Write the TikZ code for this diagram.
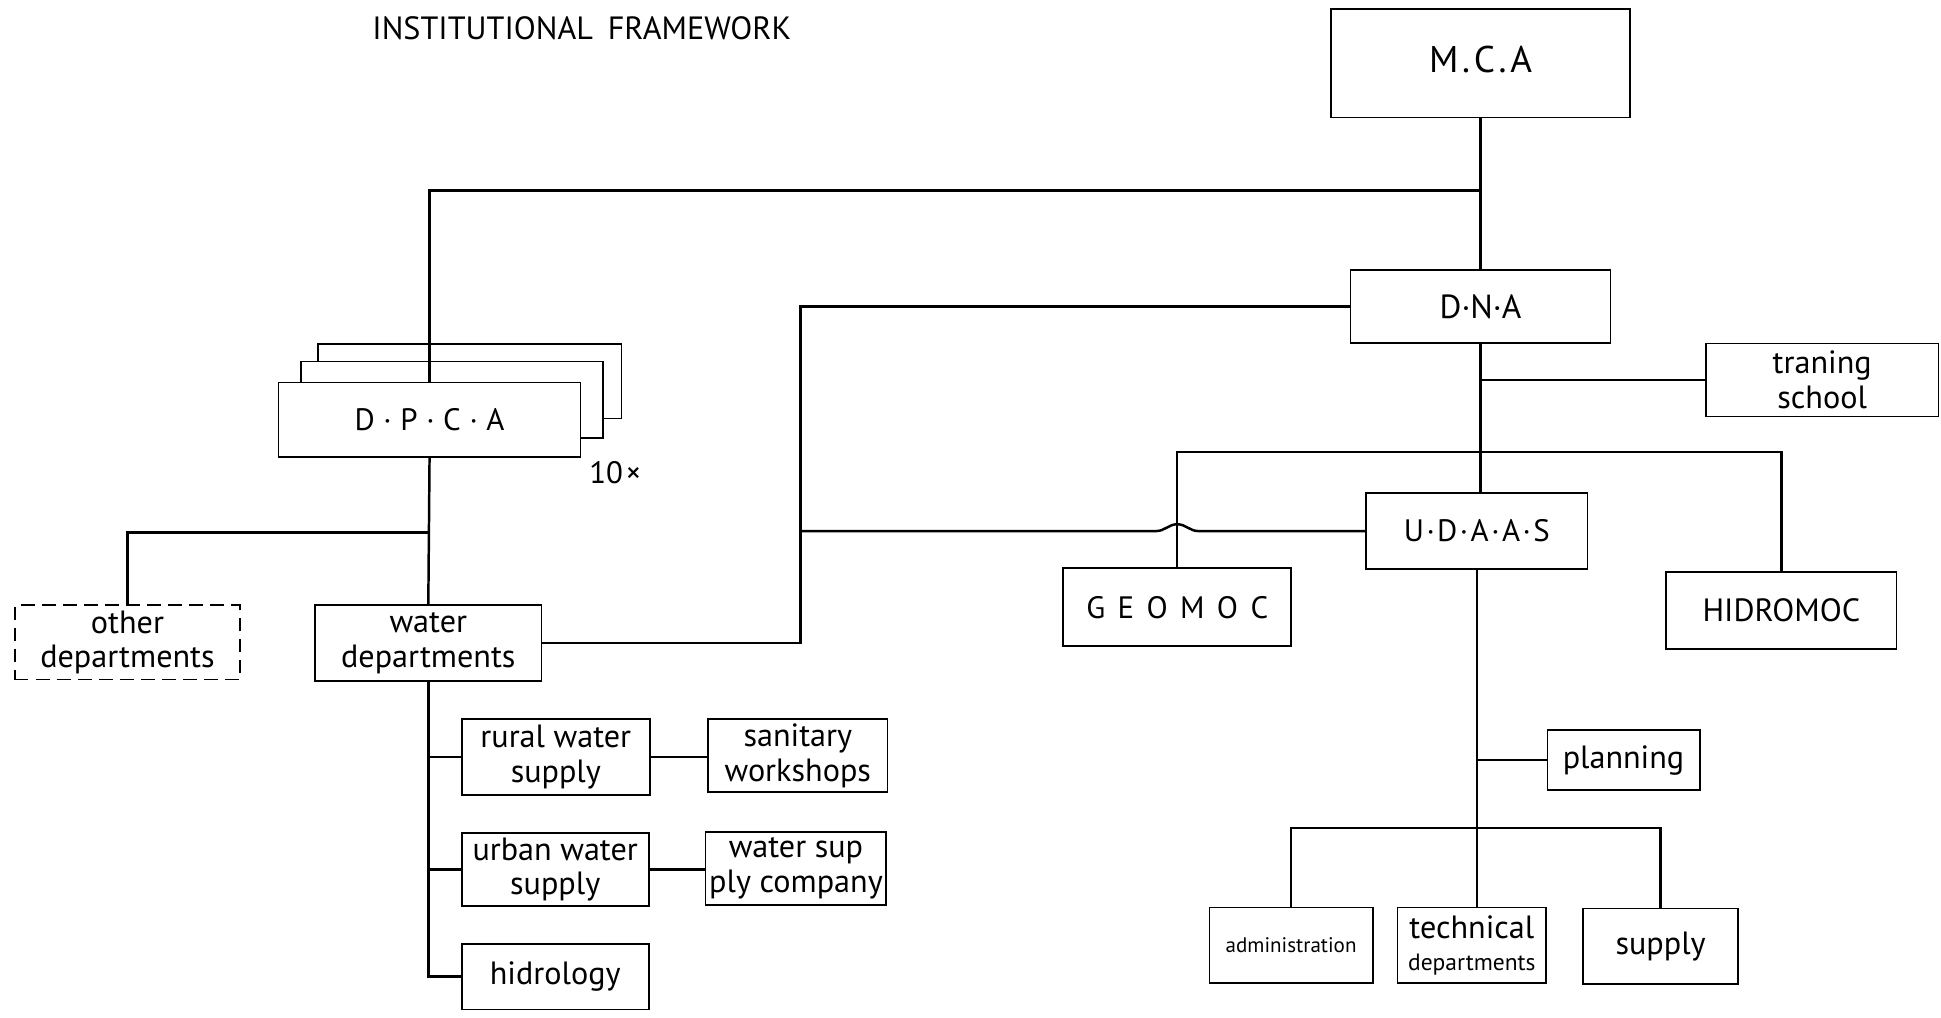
\documentclass[tikz,border=0pt]{standalone}
\usepackage{fontspec}
\setmainfont{PT Sans}
\begin{document}
\begin{tikzpicture}[x=1pt,y=-1pt]
\tikzset{
  box/.style={draw, line width=1.4pt, inner sep=0pt, align=center, font=\fontsize{26}{28}\selectfont},
  boxline/.style={line width=1.4pt},
  conn/.style={line width=2pt},
  dashbox/.style={box, dash pattern=on 11pt off 6pt},
}
\useasboundingbox (0,0) rectangle (1568,822);
\clip (0,0) rectangle (1568,822);

% title
\node[font=\fontsize{26}{28}\selectfont] (title) at (470,23) {INSTITUTIONAL\hspace{12pt}FRAMEWORK};

% right side
\node[box, minimum width=241pt, minimum height=88pt, font=\fontsize{30}{32}\selectfont] (mca) at (1196,51) {\raisebox{7pt}{M\hspace{3pt}.\hspace{3pt}C\hspace{3pt}.\hspace{3pt}A}};
\node[box, minimum width=210pt, minimum height=59pt, font=\fontsize{27}{29}\selectfont] (dna) at (1196,247.5) {D·N·A};
\node[box, minimum width=188pt, minimum height=59pt] (train) at (1472,307) {traning\\school};
\node[box, minimum width=179pt, minimum height=61pt, font=\fontsize{25}{27}\selectfont] (udaas) at (1193,429) {U\hspace{2pt}·\hspace{2pt}D\hspace{2pt}·\hspace{2pt}A\hspace{2pt}·\hspace{2pt}A\hspace{2pt}·\hspace{2pt}S};
\node[box, minimum width=184pt, minimum height=63pt, font=\fontsize{25}{27}\selectfont] (geo) at (951,490.5) {G\hspace{10pt}E\hspace{10pt}O\hspace{10pt}M\hspace{10pt}O\hspace{10pt}C};
\node[box, minimum width=186pt, minimum height=62pt] (hid) at (1439,493) {HIDROMOC};
\node[box, minimum width=123pt, minimum height=48pt] (plan) at (1311.5,614) {planning};
\node[box, minimum width=132pt, minimum height=61pt, font=\fontsize{17}{19}\selectfont] (adm) at (1043,763.5) {administration};
\node[box, minimum width=120pt, minimum height=61pt] (tech) at (1189,763.5) {technical\\[-2pt]{\fontsize{19}{20}\selectfont departments}};
\node[box, minimum width=125pt, minimum height=61pt] (sup) at (1341.5,764.5) {supply};

% left side
\draw[boxline] (257,292) -- (257,278) -- (502,278) -- (502,338) -- (487,338);
\draw[boxline] (243,309) -- (243,292) -- (487,292) -- (487,354) -- (469,354);
\node[box, minimum width=244pt, minimum height=60pt, fill=white, font=\fontsize{25}{27}\selectfont] (dpca) at (347,339) {D\hspace{7pt}·\hspace{7pt}P\hspace{7pt}·\hspace{7pt}C\hspace{7pt}·\hspace{7pt}A};
\node[font=\fontsize{25}{27}\selectfont] (ten) at (497,382) {10\hspace{2pt}×};
\node[dashbox, minimum width=182pt, minimum height=60pt] (other) at (103,519) {other\\departments};
\node[box, minimum width=183pt, minimum height=61pt] (water) at (346,519.5) {water\\departments};
\node[box, minimum width=152pt, minimum height=61pt] (rural) at (449,611.5) {rural water\\supply};
\node[box, minimum width=145pt, minimum height=59pt] (san) at (644.5,610.5) {sanitary\\workshops};
\node[box, minimum width=151pt, minimum height=59pt] (urban) at (448.5,702.5) {urban water\\supply};
\node[box, minimum width=146pt, minimum height=59pt] (wsc) at (643,701.5) {water sup\\ply company};
\node[box, minimum width=151pt, minimum height=53pt] (hidr) at (448.5,789) {hidrology};

% connectors
\coordinate (j1) at (1196,154);
\coordinate (bar) at (1196,365);
\coordinate (bar2) at (1193,669);
\coordinate (bar3) at (346,430);
\path (water.east) ++(208.5,0) coordinate (wbend);
\coordinate (ubend) at (wbend |- udaas.west);

\draw[conn] (mca.south) -- (dna.north);
\draw[conn] (j1) -| (dpca.north);
\draw[conn] (dna.west) -| (wbend) -- (water.east);
\draw[conn] (ubend) -- (934,429) .. controls (941,429) and (944,423.5) .. (951,423.5) .. controls (958,423.5) and (961,429) .. (968,429) -- (udaas.west);
\draw[conn] (dna.south) -- (dna.south |- udaas.north);
\draw[conn] (dna.south |- train.west) -- (train.west);
\draw[conn] (geo.north) |- (bar) -| (hid.north);
\draw[conn] (udaas.south) -- (udaas.south |- tech.north);
\draw[conn] (udaas.south |- plan.west) -- (plan.west);
\draw[conn] (adm.north) |- (bar2) -| (sup.north);

\draw[conn] (dpca.south) -- (water.north);
\draw[conn] (other.north) |- (bar3);
\draw[conn] (water.south) |- (hidr.west);
\draw[conn] (water.south |- rural.west) -- (rural.west);
\draw[conn] (water.south |- urban.west) -- (urban.west);
\draw[conn] (rural.east) -- (rural.east -| san.west);
\draw[conn] (urban.east) -- (urban.east -| wsc.west);
\end{tikzpicture}
\end{document}
